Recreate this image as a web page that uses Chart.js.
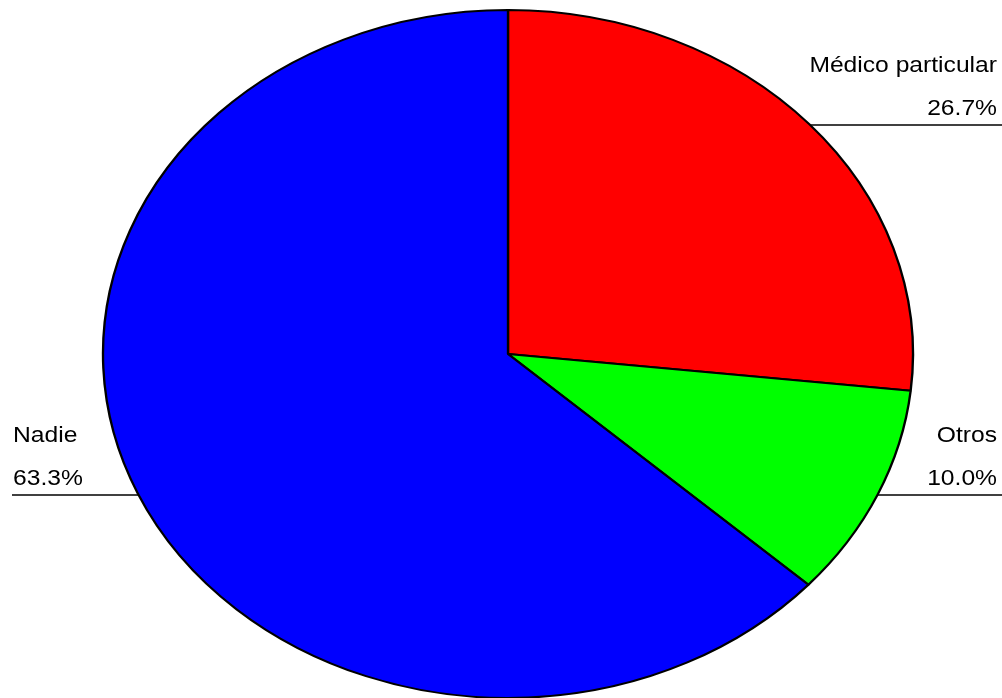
<!DOCTYPE html>
<html>
<head>
<meta charset="utf-8">
<title>Pie chart</title>
<script src="https://cdn.jsdelivr.net/npm/chart.js@4/dist/chart.umd.min.js"></script>
<style>
    html, body { margin: 0; padding: 0; background: #ffffff; }
    #chartWrap { width: 1002px; height: 698px; }
</style>
</head>
<body>
<div id="chartWrap"><canvas id="pieChart" width="1002" height="698"></canvas></div>
<script>
// Data
const categories = ['Médico particular', 'Otros', 'Nadie'];
const shares = [26.7, 10.0, 63.3];
const sliceColors = ['#ff0000', '#00ff00', '#0000ff'];

// Label layout (outside the data): line y, side
const labelLineY = [125, 495, 495];
const labelSide = ['right', 'right', 'left'];

// The reference pie is an ellipse, so stretch the circle horizontally
const radiusY = 344;
const radiusX = 405;

const ellipsePlugin = {
    id: 'ellipse',
    beforeDatasetsDraw(chart) {
        const meta = chart.getDatasetMeta(0);
        const arc = meta.data[0];
        const ctx = chart.ctx;
        ctx.save();
        ctx.translate(arc.x, arc.y);
        ctx.scale(radiusX / radiusY, 1);
        ctx.translate(-arc.x, -arc.y);
    },
    afterDatasetsDraw(chart) {
        chart.ctx.restore();
    }
};

// Leader lines and the two-line labels
const labelPlugin = {
    id: 'sideLabels',
    afterDraw(chart) {
        const ctx = chart.ctx;
        const arc = chart.getDatasetMeta(0).data[0];
        const cx = arc.x, cy = arc.y;
        const rx = arc.outerRadius * radiusX / radiusY;
        const ry = arc.outerRadius;
        const W = chart.width;

        ctx.save();
        ctx.strokeStyle = '#000000';
        ctx.lineWidth = 1.5;
        ctx.fillStyle = '#000000';
        ctx.font = '22px "Liberation Sans", Arial, sans-serif';
        ctx.textBaseline = 'alphabetic';

        categories.forEach((name, i) => {
            const y = labelLineY[i];
            const dy = (y - cy) / ry;
            const dx = rx * Math.sqrt(Math.max(0, 1 - dy * dy));
            const right = labelSide[i] === 'right';
            const edgeX = right ? cx + dx : cx - dx;

            ctx.beginPath();
            if (right) {
                ctx.moveTo(edgeX, y);
                ctx.lineTo(W, y);
            } else {
                ctx.moveTo(12, y);
                ctx.lineTo(edgeX, y);
            }
            ctx.stroke();

            const tx = right ? W - 5 : 13;
            ctx.textAlign = right ? 'right' : 'left';
            const pct = shares[i].toFixed(1) + '%';
            [[name, y - 53], [pct, y - 10]].forEach(([t, ty]) => {
                ctx.save();
                ctx.translate(tx, ty);
                ctx.scale(1.12, 1);
                ctx.fillText(t, 0, 0);
                ctx.restore();
            });
        });
        ctx.restore();
    }
};

new Chart(document.getElementById('pieChart'), {
    type: 'pie',
    data: {
        labels: categories,
        datasets: [{
            data: shares,
            backgroundColor: sliceColors,
            borderColor: '#000000',
            borderWidth: 2,
            borderAlign: 'center'
        }]
    },
    options: {
        responsive: false,
        animation: false,
        radius: radiusY,
        layout: { padding: { left: 14, top: 10, right: 0, bottom: 0 } },
        plugins: {
            legend: { display: false },
            tooltip: { enabled: false }
        }
    },
    plugins: [ellipsePlugin, labelPlugin]
});
</script>
</body>
</html>
